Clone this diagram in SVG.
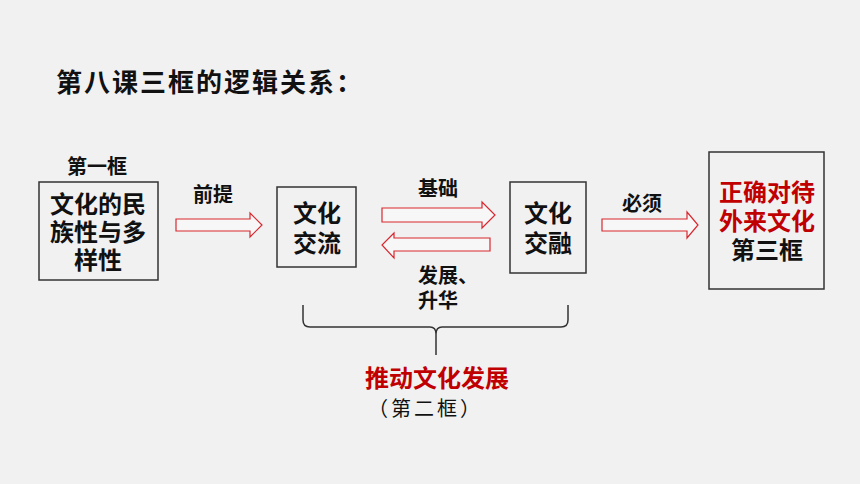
<svg xmlns="http://www.w3.org/2000/svg" width="860" height="484" viewBox="0 0 860 484">
<style>
text{font-family:"Noto Sans CJK SC","Noto Sans CJK TC",sans-serif;font-weight:bold;fill:#111}
.box{fill:none;stroke:#333;stroke-width:1.5}
.arr{fill:#f7f7f7;stroke:#d9282f;stroke-width:1.2;stroke-linejoin:miter}
.red{fill:#c00000}
.lbl{font-size:20px}
.node{font-size:24px;text-anchor:middle}
</style>
<rect x="0" y="0" width="860" height="484" fill="#f1f1f1"/>
<text x="56" y="92" font-size="26" letter-spacing="2">第八课三框的逻辑关系：</text>
<g id="node1">
<text x="97" y="174" class="lbl" text-anchor="middle">第一框</text>
<rect class="box" x="39" y="182" width="119" height="98"/>
<text class="node" x="98" y="213">文化的民</text>
<text class="node" x="98" y="241">族性与多</text>
<text class="node" x="98" y="269">样性</text>
</g>
<g id="node2">
<rect class="box" x="277" y="187" width="79" height="80"/>
<text class="node" x="317" y="222">文化</text>
<text class="node" x="317" y="252">交流</text>
</g>
<g id="node3">
<rect class="box" x="510" y="182" width="76" height="91"/>
<text class="node" x="548" y="222">文化</text>
<text class="node" x="548" y="252">交融</text>
</g>
<g id="node4">
<rect class="box" x="709" y="152" width="115" height="137"/>
<text class="node red" x="767" y="201">正确对待</text>
<text class="node red" x="767" y="230">外来文化</text>
<text class="node" x="767" y="259">第三框</text>
</g>
<g id="node5">
<text x="437" y="387" font-size="24" text-anchor="middle" class="red">推动文化发展</text>
<text x="368" y="416" font-size="20" letter-spacing="3" style="font-weight:normal">（第二框）</text>
</g>
<g id="connectors">
<path class="arr" d="M176,219 H250 V213 L262,225 L250,237 V231 H176 Z"/>
<text x="193" y="202" class="lbl">前提</text>
<path class="arr" d="M382,208 H482 V202 L495,215 L482,228 V222 H382 Z"/>
<text x="418" y="196" class="lbl">基础</text>
<path class="arr" d="M490,238 H394 V233 L382,245 L394,258 V251 H490 Z"/>
<text x="418" y="283" class="lbl">发展、</text>
<text x="418" y="308" class="lbl">升华</text>
<path class="arr" d="M602,219 H687 V212 L698,225 L687,238 V231 H602 Z"/>
<text x="622" y="211" class="lbl">必须</text>
<path d="M303,305 V320 Q303,327 310,327 H430 Q436,327 436,334 V355 M436,334 Q436,327 442,327 H561 Q568,327 568,320 V305" fill="none" stroke="#333" stroke-width="1.5"/>
</g>
</svg>
